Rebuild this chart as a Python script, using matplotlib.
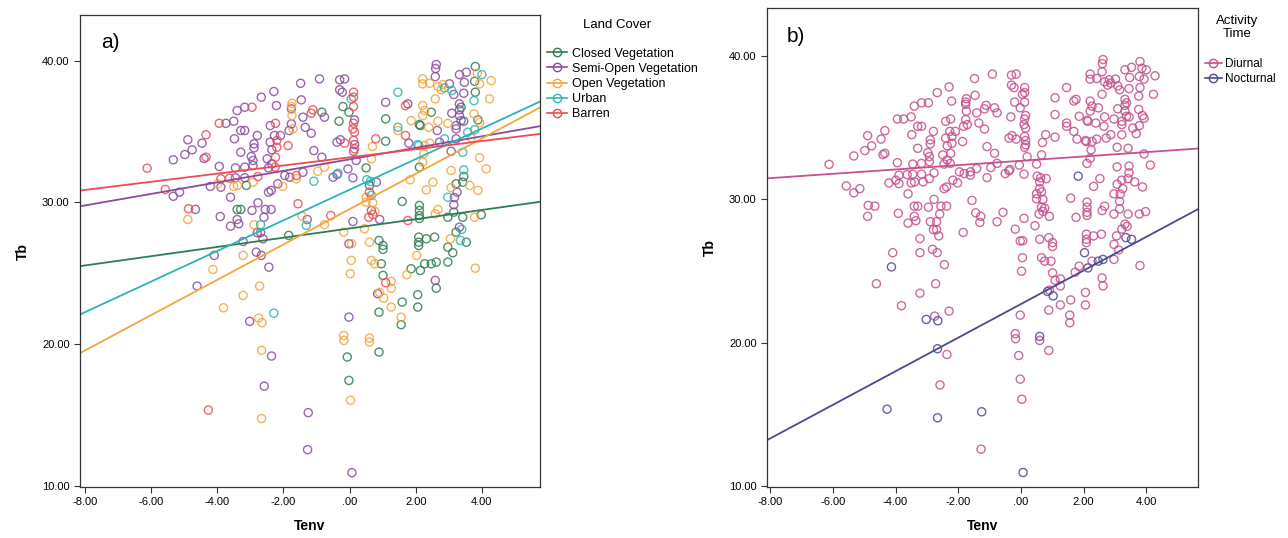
import matplotlib
matplotlib.use("Agg")
import matplotlib.pyplot as plt
import numpy as np
from matplotlib.lines import Line2D
from matplotlib.ticker import FuncFormatter

plt.rcParams['font.family'] = ['Liberation Sans', 'DejaVu Sans']

# body temperature (Tb) vs environmental temperature (Tenv), diurnal records by land cover
closed_tenv = [-3.40, -0.07, 0.89, -0.02, -0.84, -3.12, -3.29, -1.84, -0.20, -0.02, -0.32, 1.09, 2.14, 1.09,
               0.50, 2.11, 0.60, 1.59, 2.11, 2.11, 2.11, 2.11, 0.89, 1.01, 1.01, 2.09, 2.09, 2.09, 0.96, 1.01,
               1.86, 1.59, 2.06, 2.06, 0.89, 1.56, 3.80, 3.78, 3.80, 3.37, 2.47, 3.45, 3.88, 2.11, 3.45,
               3.42, 3.22, 2.97, 3.15, 3.42, 3.98, 3.22, 2.32, 2.57, 2.97, 3.12, 2.97, 2.27, 2.62]
closed_tb = [29.51, 19.11, 19.46, 17.46, 36.36, 31.20, 29.51, 27.68, 36.76, 36.36, 35.73, 35.89, 35.42, 34.32,
             32.44, 32.49, 31.20, 30.07, 29.79, 29.44, 29.08, 28.87, 27.32, 26.97, 26.70, 27.56, 27.20, 26.97,
             25.68, 24.86, 25.33, 22.98, 23.50, 22.63, 22.27, 21.39, 39.58, 38.54, 37.77, 36.71, 36.36, 35.73,
             35.82, 35.49, 31.83, 31.43, 31.32, 28.96, 29.32, 28.96, 29.13, 27.91, 27.44, 27.56, 26.85, 26.46,
             25.80, 25.68, 23.96]

semi_tenv = [-3.40, -3.74, -3.50, -4.89, -4.46, -3.48, -4.76, -4.98, -4.40, -5.33, -3.94, -3.45, -5.14, -5.33,
             -3.45, -4.21, -3.89, -3.60, -4.66, -3.91, -3.60, -3.40, -4.09, -4.61, -2.36, -2.58, -1.27,
             -0.91, -1.48, -2.29, -2.67, -2.21, -1.76, -3.17, -0.76, -1.46, -1.41, -3.29, -3.17, -2.40, -1.76,
             -1.83, -1.34, -1.16, -2.79, -2.89, -2.89, -2.27, -2.09, -2.40, -2.35, -1.08, -0.84, -3.29, -2.97,
             -2.92, -2.92, -2.49, -2.35, -2.45, -3.17, -1.41, -3.17, -1.96, -1.81, -2.17, -2.37, -2.45, -0.50,
             -2.95, -2.77, -2.55, -2.37, -2.59, -3.35, -1.28, -2.79, -2.69, -2.62, -3.22, -2.82, -2.67, -2.44,
             -0.30, -0.15, -0.30, -0.22, 1.09, 1.76, 0.15, -0.38, -0.28, 0.15, 1.79, 0.12, 0.20, -0.05, -0.38,
             0.10, 0.81, 0.10, 0.66, 0.91, -0.02, -0.02, 2.62, 2.60, 3.32, 3.53, 2.59, 3.47, 3.02, 3.15, 3.45,
             3.32, 3.32, 3.09, 3.32, 3.37, 3.22, 3.22, 2.65, 2.72, 3.22, 3.07, 3.25, 3.17, 3.15, 3.32, 2.59]
semi_tb = [36.48, 35.58, 35.73, 34.42, 34.18, 34.49, 33.71, 33.38, 33.10, 33.01, 32.54, 32.44, 30.73, 30.44,
           31.74, 31.13, 31.08, 30.37, 29.51, 29.01, 28.33, 28.80, 26.27, 24.11, 19.18, 17.06, 12.58,
           38.71, 38.40, 37.82, 37.42, 36.83, 36.60, 36.71, 36.01, 37.23, 36.01, 35.07, 35.07, 35.42, 35.54,
           35.07, 35.30, 34.88, 34.72, 34.13, 33.85, 34.72, 34.72, 34.25, 33.71, 33.66, 33.19, 33.54, 33.24,
           32.96, 32.61, 33.08, 32.73, 32.44, 32.49, 32.13, 31.74, 31.90, 31.78, 31.32, 30.85, 30.73, 31.78,
           29.44, 29.98, 29.51, 29.51, 28.96, 28.50, 28.80, 27.87, 27.87, 27.44, 27.25, 26.50, 26.27, 25.44,
           38.64, 38.71, 37.94, 37.77, 37.06, 36.95, 35.82, 34.25, 34.42, 34.08, 34.18, 33.61, 32.96, 32.37,
           31.97, 31.74, 31.43, 28.66, 29.44, 28.80, 27.09, 21.92, 39.72, 39.44, 39.01, 39.18, 38.87, 38.47,
           38.36, 37.61, 37.70, 36.95, 36.53, 36.29, 36.13, 35.77, 35.42, 35.19, 35.07, 34.25, 34.49, 33.61,
           30.73, 30.35, 29.84, 28.26, 24.51]

open_tenv = [-3.99, -3.50, -4.89, -3.81, 0.60, 0.03, -0.17, -1.74, -1.76, -1.74, -1.71, -0.76, -0.96, -3.39,
             -2.92, -1.61, -2.02, -2.89, -1.44, -0.76, -3.22, -2.72, -3.22, -2.75, 2.21, 2.21, 2.21, 2.27,
             2.21, 1.86, 1.46, 0.69, 0.66, 0.50, 0.50, 0.70, 0.76, 0.45, -0.18, 0.06, 0.60, 0.05, 0.66, 0.76,
             0.02, 1.73, 1.26, 1.26, 0.91, 1.26, 1.56, -0.18, 3.86, 2.42, 4.28, 2.82, 2.67, 2.77, 3.93, 4.23,
             2.59, 3.76, 3.93, 2.67, 2.97, 2.39, 2.42, 3.68, 2.27, 2.24, 2.21, 3.93, 3.07, 4.13, 2.52, 2.32,
             3.07, 3.63, 3.88, 2.67, 2.59, 3.78, 3.05, 3.80]
open_tb = [31.32, 31.13, 28.80, 22.58, 20.16, 16.06, 20.28, 36.99, 36.76, 36.13, 35.19, 32.49, 32.20, 31.20,
           31.43, 31.67, 31.13, 28.43, 29.04, 28.43, 26.27, 24.11, 23.45, 21.85, 38.71, 38.36, 36.83, 36.48,
           36.13, 35.77, 35.07, 33.94, 33.08, 30.37, 30.02, 29.98, 29.37, 28.15, 27.91, 27.10, 27.20, 25.92,
           25.92, 25.68, 24.98, 24.91, 24.44, 23.96, 23.66, 22.63, 21.92, 20.63, 39.11, 38.40, 38.59, 38.31,
           38.17, 37.94, 38.36, 37.30, 37.30, 36.25, 35.63, 35.73, 35.58, 35.30, 34.18, 34.56, 34.01, 33.43,
           32.84, 33.15, 32.25, 32.37, 31.43, 30.89, 31.04, 31.20, 30.85, 29.51, 29.20, 28.96, 27.44, 25.37]

urban_tenv = [-1.08, -2.69, -1.31, -2.29, 0.05, 1.46, 1.46, 2.09, -0.35, 0.52, 0.63, 0.66, 4.00, 2.87, 3.09,
              3.76, 3.78, 3.57, 2.87, 2.06, 3.42, 3.45, 2.97, 3.39]
urban_tb = [31.50, 28.43, 28.38, 22.20, 37.30, 37.77, 35.30, 34.01, 32.06, 31.60, 31.48, 30.50, 39.01, 38.08,
            37.89, 37.18, 35.12, 34.95, 34.49, 34.08, 33.54, 32.30, 30.37, 28.10]

barren_tenv = [-3.94, -4.34, -4.34, -6.12, -5.57, -3.89, -3.63, -4.87, -2.95, -1.11, -1.16, -2.24, -2.20,
               -2.20, -1.86, -2.24, -2.25, -2.77, -1.61, -1.56, -0.57, 0.12, 0.12, 0.12, 1.69, 0.12, 0.10,
               0.15, -0.15, 0.12, 0.15, 0.79, 1.69, 0.60, 0.58, 0.70, 1.76, 1.09]
barren_tb = [35.58, 34.77, 33.19, 32.42, 30.92, 31.67, 31.71, 29.56, 36.71, 36.53, 36.29, 35.58, 34.37, 33.89,
             34.01, 33.19, 32.49, 31.83, 31.90, 29.91, 29.08, 37.77, 37.42, 36.76, 36.83, 35.58, 35.19, 34.95,
             34.18, 34.37, 33.78, 34.49, 34.72, 30.73, 28.96, 29.15, 28.73, 24.35]

# nocturnal records
night_tenv = [3.53, 2.62, 2.47, 2.14, 0.85, -3.02, -1.25, 0.07, 1.83, 2.03, 1.03, 0.60, -4.13, -2.65, -2.66,
              -2.66, 3.35, -4.27]
night_tb = [27.20, 25.80, 25.68, 25.21, 23.57, 21.62, 15.19, 10.96, 31.60, 26.27, 23.26, 20.44, 25.28, 21.53,
            19.58, 14.77, 27.32, 15.37]
night_cover = ['Closed Vegetation'] * 4 + ['Semi-Open Vegetation'] * 4 + ['Open Vegetation'] * 8 + \
              ['Urban', 'Barren']

# linear fits (intercept, slope)
fit_cover = {'Closed Vegetation': (28.17, 0.326), 'Semi-Open Vegetation': (33.04, 0.406),
             'Open Vegetation': (29.53, 1.245), 'Urban': (30.90, 1.079), 'Barren': (33.18, 0.287)}
fit_activity = {'Diurnal': (32.67, 0.151), 'Nocturnal': (22.69, 1.17)}

cover_names = ['Closed Vegetation', 'Semi-Open Vegetation', 'Open Vegetation', 'Urban', 'Barren']
cover_colors = ['#2f7d52', '#8b4b9f', '#f6a43c', '#2eb4b4', '#ee4b55']
activity_colors = {'Diurnal': '#c4508e', 'Nocturnal': '#4a4a8e'}

day_data = {
    'Closed Vegetation': (closed_tenv, closed_tb),
    'Semi-Open Vegetation': (semi_tenv, semi_tb),
    'Open Vegetation': (open_tenv, open_tb),
    'Urban': (urban_tenv, urban_tb),
    'Barren': (barren_tenv, barren_tb),
}

fig = plt.figure(figsize=(12.88, 5.38), dpi=100)
ax1 = fig.add_axes([0.0621, 0.0948, 0.357, 0.877])
ax2 = fig.add_axes([0.5955, 0.0948, 0.3346, 0.890])

# SPSS style labels: 2 decimals, ".00" for zero
fmt = FuncFormatter(lambda v, p: '.00' if abs(v) < 1e-9 else '%.2f' % v)

def style_axes(ax, xlim, ylim):
    ax.set_xlim(*xlim)
    ax.set_ylim(*ylim)
    ax.set_xticks([-8, -6, -4, -2, 0, 2, 4])
    ax.set_yticks([10, 20, 30, 40])
    ax.xaxis.set_major_formatter(fmt)
    ax.yaxis.set_major_formatter(fmt)
    ax.tick_params(labelsize=8, length=4, width=0.8, color='#333333')
    for s in ax.spines.values():
        s.set_linewidth(0.9)
        s.set_color('#333333')
    ax.set_xlabel('Tenv', fontsize=10, fontweight='bold', labelpad=8)
    ax.set_ylabel('Tb', fontsize=10, fontweight='bold', labelpad=9)

mk = dict(marker='o', facecolors='none', s=34, linewidths=1.0)

# panel a: land cover
for name, col in zip(cover_names, cover_colors):
    tx, ty = day_data[name]
    nx = [t for t, c in zip(night_tenv, night_cover) if c == name]
    ny = [t for t, c in zip(night_tb, night_cover) if c == name]
    ax1.scatter(list(tx) + nx, list(ty) + ny, edgecolors=col, alpha=0.85, **mk)

xl1 = (-8.15, 5.75)
xs = np.array(xl1)
for name, col in zip(cover_names, cover_colors):
    b0, b1 = fit_cover[name]
    ax1.plot(xs, b0 + b1 * xs, color=col, lw=1.3)
style_axes(ax1, xl1, (9.95, 43.2))
ax1.text(0.045, 0.93, 'a)', transform=ax1.transAxes, fontsize=15)

handles = [Line2D([], [], color=c, marker='o', mfc='none', mec=c, ms=6, lw=1.2) for c in cover_colors]
ax1.text(1.167, 0.979, 'Land Cover', transform=ax1.transAxes, ha='center', va='center', fontsize=9.5)
ax1.legend(handles, cover_names, loc='upper left', bbox_to_anchor=(1.0, 0.947),
           frameon=False, fontsize=9, handlelength=1.6, handletextpad=0.4,
           labelspacing=0.25, borderaxespad=0.2)

# panel b: activity time
all_day_x = [v for n in cover_names for v in day_data[n][0]]
all_day_y = [v for n in cover_names for v in day_data[n][1]]
ax2.scatter(all_day_x, all_day_y, edgecolors=activity_colors['Diurnal'], alpha=0.85, **mk)
ax2.scatter(night_tenv, night_tb, edgecolors=activity_colors['Nocturnal'], alpha=0.85, **mk)
xl2 = (-8.1, 5.65)
xs = np.array(xl2)
for name in ['Diurnal', 'Nocturnal']:
    b0, b1 = fit_activity[name]
    ax2.plot(xs, b0 + b1 * xs, color=activity_colors[name], lw=1.3)
style_axes(ax2, xl2, (9.95, 43.3))
ax2.text(0.045, 0.93, 'b)', transform=ax2.transAxes, fontsize=15)

handles = [Line2D([], [], color=c, marker='o', mfc='none', mec=c, ms=6, lw=1.2) for c in activity_colors.values()]
ax2.text(1.09, 0.96, 'Activity\nTime', transform=ax2.transAxes, ha='center', va='center',
         fontsize=9.5, linespacing=1.1)
ax2.legend(handles, list(activity_colors.keys()), loc='upper left',
           bbox_to_anchor=(1.0, 0.91), frameon=False, fontsize=8.5,
           handlelength=1.4, handletextpad=0.3, labelspacing=0.25, borderaxespad=0.2)

fig.savefig('out.png', dpi=100)
